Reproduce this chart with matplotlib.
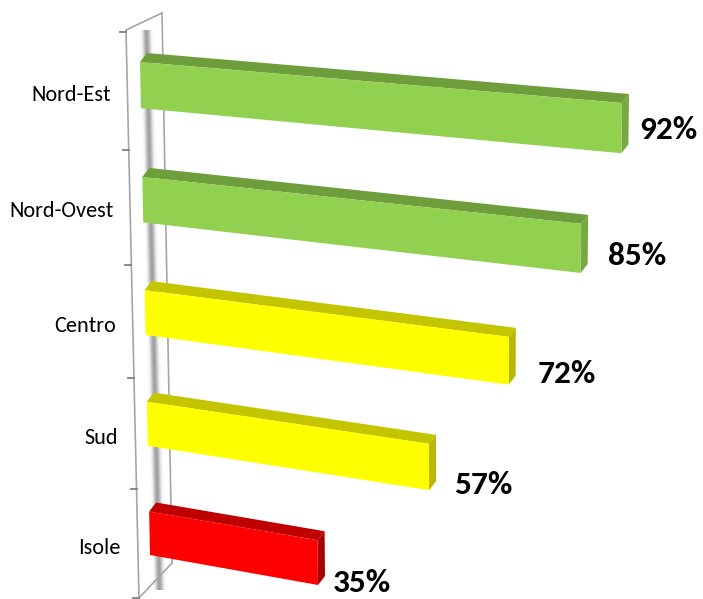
import numpy as np
import matplotlib
matplotlib.use("Agg")
import matplotlib.pyplot as plt
from matplotlib.patches import Polygon

# ---------------------------------------------------------------- data
categories = ["Nord-Est", "Nord-Ovest", "Centro", "Sud", "Isole"]
values = [92, 85, 72, 57, 35]
value_labels = ["92%", "85%", "72%", "57%", "35%"]

# styles (front / top / side face per bar)
FRONT = ["#92D050", "#92D050", "#FFFF00", "#FFFF00", "#FF0000"]
TOP = ["#6E9E3C", "#6E9E3C", "#C4C400", "#C4C400", "#C00000"]
SIDE = ["#77A842", "#77A842", "#B8B800", "#B8B800", "#A80000"]
WALL = "#A6A6A6"
FONT = ["Carlito", "DejaVu Sans"]

W_PX, H_PX = 703, 599
HALF = 0.2                      # half bar height in category units


# ---------------------------------------------------------------- perspective
def fit_h(src, dst):
    """Homography (value, category) -> pixel from 4 correspondences."""
    A, b = [], []
    for (u, w), (x, y) in zip(src, dst):
        A.append([u, w, 1, 0, 0, 0, -u * x, -w * x]); b.append(x)
        A.append([0, 0, 0, u, w, 1, -u * y, -w * y]); b.append(y)
    h = np.linalg.solve(np.array(A, float), np.array(b, float))
    return np.append(h, 1.0).reshape(3, 3)


# front plane of the bars, anchored on the plot frame
H = fit_h([(0, -HALF), (92, -HALF), (0, 4 + HALF), (35, 4 + HALF)],
          [(140, 62), (622, 103), (150, 555), (318, 585)])


def proj(u, w):
    p = H @ np.array([u, w, 1.0])
    return np.array([p[0] / p[2], p[1] / p[2]])


DEPTH = np.array([7.0, -9.0])   # screen offset of the back faces


def wall_y(t):
    """Category boundary t (0..5) on the side wall, mild perspective."""
    return 32 + 118.8 * t / (1 + 0.0099 * t)


def outer_x(y):
    return 126 + (139 - 126) * (y - 30) / (598 - 30)


fig = plt.figure(figsize=(W_PX / 100, H_PX / 100), dpi=100)
ax = fig.add_axes([0, 0, 1, 1])
ax.set_xlim(0, W_PX)
ax.set_ylim(H_PX, 0)
ax.axis("off")

# ---------------------------------------------------------------- side wall
for s in np.linspace(-7, 7, 43):
    g = 0.4 * np.exp(-((s + 0.5) / 3.2) ** 2)
    ax.plot([147 + s, 160 + s], [30, 590], color=(0.4, 0.4, 0.4),
            alpha=g, lw=0.5, solid_capstyle="butt", zorder=1)
ax.plot([126, 139], [30, 598], color=WALL, lw=1.2, zorder=2)
ax.plot([126, 162], [30, 13], color=WALL, lw=1.2, zorder=2)
ax.plot([162, 172], [13, 563], color=WALL, lw=1.2, zorder=2)
ax.plot([139, 172], [598, 563], color=WALL, lw=1.2, zorder=2)
for t in range(6):
    y = wall_y(t)
    x = outer_x(y)
    ax.plot([x - 6, x], [y, y], color="#808080", lw=1.3, zorder=2)

# ---------------------------------------------------------------- bars
n = len(categories)
for i, (cat, v, lab) in enumerate(zip(categories, values, value_labels)):
    p0 = proj(0, i - HALF)
    p1 = proj(v, i - HALF)
    p2 = proj(v, i + HALF)
    p3 = proj(0, i + HALF)
    ax.add_patch(Polygon([p0, p1, p1 + DEPTH, p0 + DEPTH], closed=True,
                         fc=TOP[i], ec="none", zorder=3))
    ax.add_patch(Polygon([p1, p2, p2 + DEPTH, p1 + DEPTH], closed=True,
                         fc=SIDE[i], ec="none", zorder=3))
    ax.add_patch(Polygon([p0, p1, p2, p3], closed=True,
                         fc=FRONT[i], ec="none", zorder=4))

    # value label (gap widens a little for the middle bars)
    gap = 3.0 + 0.6 * i * (n - 1 - i)
    lx, ly = proj(v + gap, i * 1.04)
    ax.text(lx, ly, lab, ha="left", va="center", fontsize=24,
            fontweight="bold", family=FONT, color="black", zorder=5)

    # category label
    cy = (wall_y(i) + wall_y(i + 1)) / 2 + 4
    ax.text(outer_x(cy) - 17, cy, cat, ha="right", va="center",
            fontsize=16, family=FONT, color="black", zorder=5)

fig.savefig("out.png", dpi=100)
